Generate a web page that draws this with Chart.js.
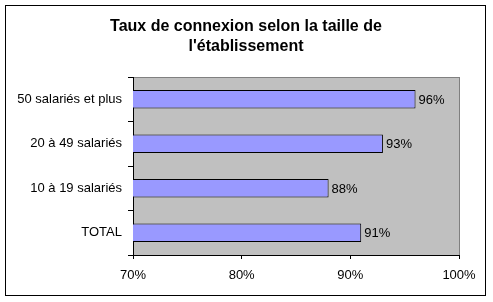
<!DOCTYPE html>
<html>
<head>
<meta charset="utf-8">
<script src="https://cdn.jsdelivr.net/npm/chart.js@4.4.1/dist/chart.umd.min.js"></script>
<style>
  html, body { margin: 0; padding: 0; background: #ffffff; }
  #wrap { width: 493px; height: 302px; position: relative; }
</style>
</head>
<body>
<div id="wrap"><canvas id="chart" width="493" height="302"></canvas></div>
<script>
// Connection rate by company size
const categories = ['50 salariés et plus', '20 à 49 salariés', '10 à 19 salariés', 'TOTAL'];
const values = [96, 93, 88, 91];
const xTicks = [70, 80, 90, 100];
const titleLines = ['Taux de connexion selon la taille de', "l'établissement"];

const FONT = '"Liberation Sans", Arial, sans-serif';

// Frame, grey plot background, value labels and two-line title
const decorations = {
  id: 'decorations',
  beforeDraw(chart) {
    const { ctx, chartArea: a } = chart;
    ctx.save();
    ctx.fillStyle = '#ffffff';
    ctx.fillRect(0, 0, chart.width, chart.height);
    ctx.strokeStyle = '#000000';
    ctx.lineWidth = 1;
    ctx.strokeRect(5.5, 5.5, 480, 290);
    ctx.fillStyle = '#c0c0c0';
    ctx.fillRect(a.left, a.top, a.right - a.left, a.bottom - a.top);
    ctx.strokeStyle = '#808080';
    ctx.strokeRect(a.left + 0.5, a.top + 0.5, a.right - a.left, a.bottom - a.top);
    ctx.restore();
  },
  afterDatasetsDraw(chart) {
    const { ctx } = chart;
    const meta = chart.getDatasetMeta(0);
    ctx.save();
    ctx.font = '13px ' + FONT;
    ctx.fillStyle = '#000000';
    ctx.textAlign = 'left';
    ctx.textBaseline = 'middle';
    meta.data.forEach((bar, i) => {
      ctx.fillText(values[i] + '%', bar.x + 3, bar.y + 1);
    });
    ctx.restore();
  },
  afterDraw(chart) {
    const { ctx } = chart;
    ctx.save();
    ctx.font = 'bold 16px ' + FONT;
    ctx.fillStyle = '#000000';
    ctx.textAlign = 'center';
    ctx.textBaseline = 'alphabetic';
    ctx.fillText(titleLines[0], 246, 31);
    ctx.fillText(titleLines[1], 246, 51);
    ctx.restore();
  }
};

new Chart(document.getElementById('chart'), {
  type: 'bar',
  data: {
    labels: categories,
    datasets: [{
      data: values,
      backgroundColor: '#9999ff',
      borderColor: '#000000',
      borderWidth: 1,
      borderSkipped: false,
      barPercentage: 0.42,
      categoryPercentage: 1.0
    }]
  },
  options: {
    indexAxis: 'y',
    responsive: false,
    animation: false,
    devicePixelRatio: 1,
    layout: { padding: { left: 0, top: 77, right: 34, bottom: 0 } },
    plugins: {
      legend: { display: false },
      title: { display: false },
      tooltip: { enabled: false }
    },
    scales: {
      x: {
        type: 'linear',
        min: xTicks[0],
        max: xTicks[xTicks.length - 1],
        afterBuildTicks(scale) {
          scale.ticks = xTicks.map(v => ({ value: v }));
        },
        afterFit(scale) { scale.height = 47; },
        ticks: {
          callback: v => v + '%',
          color: '#000000',
          font: { family: FONT, size: 13 },
          padding: 9,
          maxRotation: 0
        },
        grid: {
          drawOnChartArea: false,
          drawTicks: true,
          tickLength: 4,
          color: '#000000'
        },
        border: { display: true, color: '#000000' }
      },
      y: {
        type: 'category',
        afterFit(scale) { scale.width = 133; },
        ticks: {
          color: '#000000',
          font: { family: FONT, size: 13 },
          padding: 6
        },
        grid: {
          offset: true,
          drawOnChartArea: false,
          drawTicks: true,
          tickLength: 5,
          color: '#000000'
        },
        border: { display: true, color: '#000000' }
      }
    }
  },
  plugins: [decorations]
});
</script>
</body>
</html>
